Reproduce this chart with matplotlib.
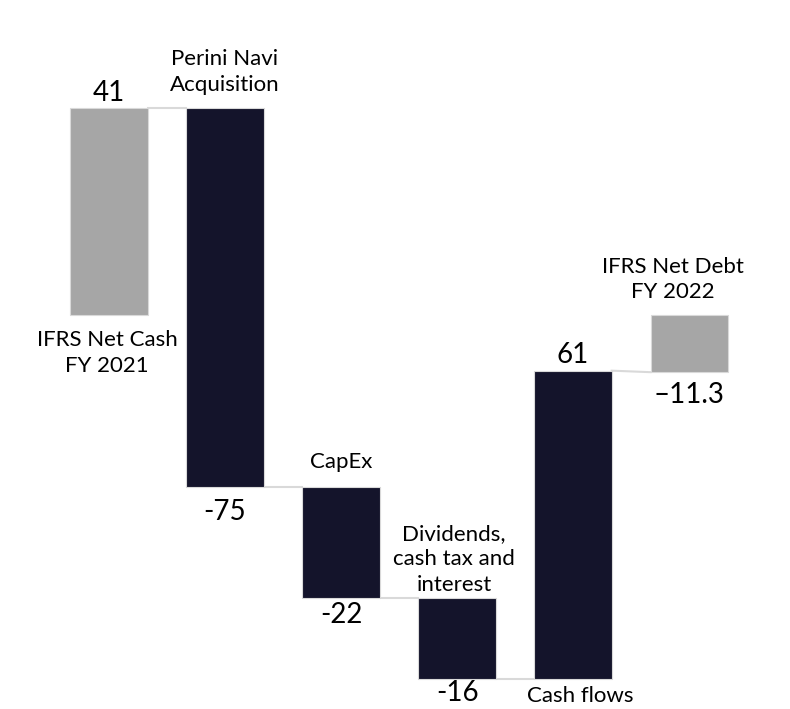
import numpy as np
import matplotlib.pyplot as plt

categories = ["IFRS Net Cash\nFY 2021", "Perini Navi\nAcquisition", "CapEx",
              "Dividends,\ncash tax and\ninterest", "Cash flows", "IFRS Net Debt\nFY 2022"]
values = [41, -75, -22, -16, 61, -11.3]
value_labels = ["41", "-75", "-22", "-16", "61", "\u201311.3"]
kinds = ["total", "delta", "delta", "delta", "delta", "total"]

NAVY = "#14142b"
GREY = "#a6a6a6"
LINE = "#d9d9d9"

# label nudges in pixels: (gap for value label, gap for category label, category dx)
nudge = {0: (2, 15, -2), 1: (12, 13, 0), 2: (4, 15, 0),
         3: (1, 3, -3), 4: (3, 7, 7), 5: (10, 13, -16)}

plt.rcParams['font.family'] = ['Lato', 'DejaVu Sans']

fig = plt.figure(figsize=(7.9, 7.09), dpi=100)
ax = fig.add_axes([0, 0, 1, 1])

x = np.arange(len(values))
width = 0.665

bottoms, tops, levels = [], [], []
running = 0.0
for v, k in zip(values, kinds):
    if k == "total":
        lo, hi = min(0, v), max(0, v)
        running = v
    else:
        lo, hi = min(running, running + v), max(running, running + v)
        running += v
    bottoms.append(lo)
    tops.append(hi)
    levels.append(running)

colors = [GREY if k == "total" else NAVY for k in kinds]
ax.bar(x, np.array(tops) - np.array(bottoms), bottom=bottoms, width=width,
       color=colors, edgecolor=LINE, linewidth=0.8, zorder=3)

# connectors
for i in range(len(values) - 1):
    y0 = levels[i]
    y1 = levels[i] if kinds[i + 1] == "delta" else values[i + 1]
    ax.plot([x[i] + width / 2, x[i + 1] - width / 2], [y0, y1],
            color=LINE, lw=1.5, zorder=2)

# labels
for i, v in enumerate(values):
    vgap, cgap, cdx = nudge[i]
    val_kw = dict(fontsize=20, color="black")
    cat_kw = dict(fontsize=16, color="black", linespacing=1.35)
    if v >= 0:
        ax.annotate(value_labels[i], (x[i], tops[i]), xytext=(0, vgap),
                    textcoords="offset pixels", ha="center", va="bottom", **val_kw)
        ax.annotate(categories[i], (x[i], bottoms[i]), xytext=(cdx, -cgap),
                    textcoords="offset pixels", ha="center", va="top", **cat_kw)
    else:
        ax.annotate(categories[i], (x[i], tops[i]), xytext=(cdx, cgap),
                    textcoords="offset pixels", ha="center", va="bottom", **cat_kw)
        ax.annotate(value_labels[i], (x[i], bottoms[i]), xytext=(0, -vgap),
                    textcoords="offset pixels", ha="center", va="top", **val_kw)

ax.set_xlim(-0.94, 5.87)
ax.set_ylim(-78.0, 62.4)
ax.axis("off")

fig.savefig("out.png", dpi=100, facecolor="white")
